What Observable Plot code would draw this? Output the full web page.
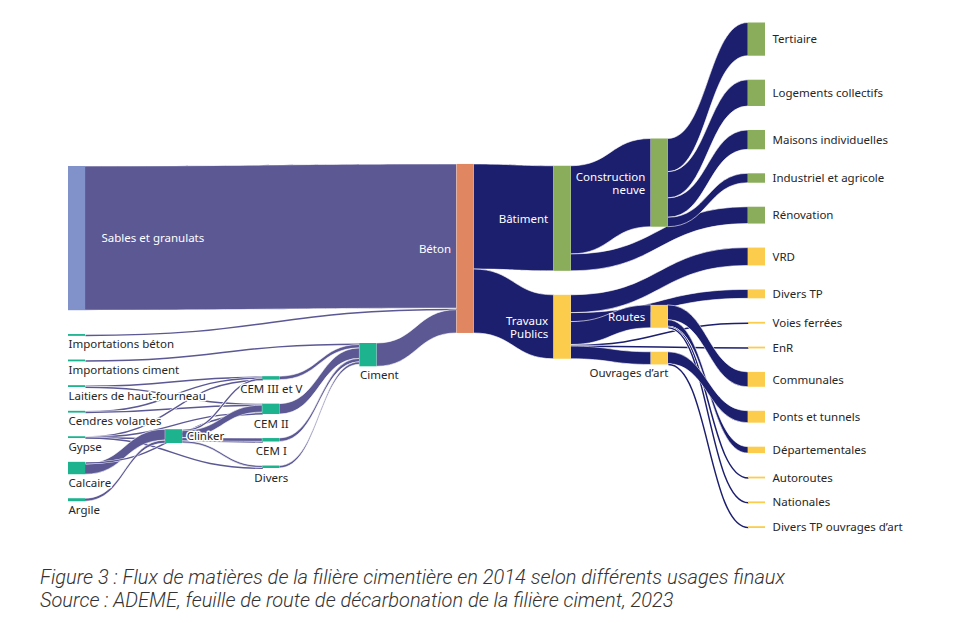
<!DOCTYPE html>
<html>
<head>
<meta charset="utf-8">
<script src="https://cdn.jsdelivr.net/npm/d3@7"></script>
<script src="https://cdn.jsdelivr.net/npm/@observablehq/plot@0.6"></script>
<style>
  body { margin: 0; background: #fff; }
  #chart { width: 980px; }
  #caption {
    font-family: Roboto, "Noto Sans", sans-serif;
    font-style: italic;
    font-weight: 300;
    font-size: 20px;
    line-height: 23px;
    color: #333;
    padding-left: 40px;
    margin-top: 6px;
  }
</style>
</head>
<body>
<div id="chart"></div>
<div id="caption">Figure 3 : Flux de matières de la filière cimentière en 2014 selon différents usages finaux<br>Source : ADEME, feuille de route de décarbonation de la filière ciment, 2023</div>
<script>
// ---------- DATA ----------
const nodeNames = [
  "Sables et granulats", "Importations béton", "Importations ciment", "Laitiers de haut-fourneau",
  "Cendres volantes", "Gypse", "Calcaire", "Argile",
  "Clinker",
  "CEM III et V", "CEM II", "CEM I", "Divers",
  "Ciment",
  "Béton",
  "Bâtiment", "Travaux Publics",
  "Construction neuve", "Routes", "Ouvrages d’art",
  "Tertiaire", "Logements collectifs", "Maisons individuelles", "Industriel et agricole", "Rénovation",
  "VRD", "Divers TP", "Voies ferrées", "EnR", "Communales", "Ponts et tunnels", "Départementales",
  "Autoroutes", "Nationales", "Divers TP ouvrages d’art"
];
const nodeLabels = nodeNames.map(n =>
  n === "Travaux Publics" ? "Travaux\nPublics" : n === "Construction neuve" ? "Construction\nneuve" : n);
const nodeFamilies = [
  "granulats", "matière", "matière", "matière", "matière", "matière", "matière", "matière",
  "matière",
  "matière", "matière", "matière", "matière",
  "matière",
  "béton",
  "bâtiment", "travaux publics",
  "bâtiment", "travaux publics", "travaux publics",
  "bâtiment", "bâtiment", "bâtiment", "bâtiment", "bâtiment",
  "travaux publics", "travaux publics", "travaux publics", "travaux publics", "travaux publics",
  "travaux publics", "travaux publics", "travaux publics", "travaux publics", "travaux publics"
];

const linkSources = [
  "Sables et granulats", "Importations béton", "Importations ciment",
  "Laitiers de haut-fourneau", "Laitiers de haut-fourneau",
  "Cendres volantes", "Cendres volantes",
  "Gypse", "Gypse", "Gypse", "Gypse",
  "Calcaire", "Calcaire", "Argile",
  "Clinker", "Clinker", "Clinker", "Clinker",
  "CEM III et V", "CEM II", "CEM I", "Divers",
  "Ciment",
  "Béton", "Béton",
  "Bâtiment", "Bâtiment",
  "Construction neuve", "Construction neuve", "Construction neuve", "Construction neuve",
  "Travaux Publics", "Travaux Publics", "Travaux Publics", "Travaux Publics", "Travaux Publics", "Travaux Publics",
  "Routes", "Routes", "Routes", "Routes",
  "Ouvrages d’art", "Ouvrages d’art"
];
const linkTargets = [
  "Béton", "Béton", "Ciment",
  "CEM III et V", "CEM II",
  "CEM III et V", "CEM II",
  "CEM III et V", "CEM II", "CEM I", "Divers",
  "Clinker", "CEM II", "Clinker",
  "CEM III et V", "CEM II", "CEM I", "Divers",
  "Ciment", "Ciment", "Ciment", "Ciment",
  "Béton",
  "Bâtiment", "Travaux Publics",
  "Construction neuve", "Rénovation",
  "Tertiaire", "Logements collectifs", "Maisons individuelles", "Industriel et agricole",
  "VRD", "Divers TP", "Routes", "Voies ferrées", "EnR", "Ouvrages d’art",
  "Communales", "Départementales", "Autoroutes", "Nationales",
  "Ponts et tunnels", "Divers TP ouvrages d’art"
];
const linkValues = [
  145.5, 1.5, 1.5,
  1.2, 0.6,
  0.6, 0.9,
  0.2, 0.5, 0.2, 0.5,
  11, 1.5, 3,
  1.5, 7, 3.3, 2,
  3.5, 10.5, 3.5, 2.5,
  23.5,
  106, 64.5,
  89, 17,
  33.5, 26.5, 19.5, 9.5,
  18, 9, 23.1, 0.8, 0.8, 12.8,
  15, 6.5, 0.8, 0.8,
  12, 0.8
];

// ---------- SANKEY LAYOUT (classic d3-sankey centre relaxation, justify alignment, input order kept) ----------
function sankeyLayout({nodes, links, x0, x1, y0, y1, nodeWidth, nodePadding, iterations}) {
  nodes.forEach((n, i) => { n.index = i; n.sourceLinks = []; n.targetLinks = []; });
  const byId = new Map(nodes.map(n => [n.name, n]));
  links.forEach((l, i) => {
    l.index = i;
    l.source = byId.get(l.source); l.target = byId.get(l.target);
    l.source.sourceLinks.push(l); l.target.targetLinks.push(l);
  });
  for (const n of nodes) n.value = Math.max(d3.sum(n.sourceLinks, l => l.value), d3.sum(n.targetLinks, l => l.value));
  let current = new Set(nodes), next = new Set(), x = 0;
  while (current.size) {
    for (const n of current) { n.depth = x; for (const l of n.sourceLinks) next.add(l.target); }
    x++; current = next; next = new Set();
  }
  const nCols = d3.max(nodes, n => n.depth) + 1;
  const kx = (x1 - x0 - nodeWidth) / (nCols - 1);
  const columns = Array.from({length: nCols}, () => []);
  for (const n of nodes) {
    const i = n.sourceLinks.length ? n.depth : nCols - 1;
    n.layer = i; n.x0 = x0 + i * kx; n.x1 = n.x0 + nodeWidth;
    columns[i].push(n);
  }
  const py = nodePadding;
  const ky = d3.min(columns, c => (y1 - y0 - (c.length - 1) * py) / d3.sum(c, n => n.value));
  for (const col of columns) col.forEach((n, i) => { n.y0 = i; n.y1 = i + n.value * ky; });
  for (const l of links) l.width = l.value * ky;
  const center = n => (n.y0 + n.y1) / 2;

  function resolve() {
    for (const col of columns) {
      let y = y0, node;
      const n = col.length;
      for (let i = 0; i < n; ++i) {
        node = col[i];
        const dy = y - node.y0;
        if (dy > 0) { node.y0 += dy; node.y1 += dy; }
        y = node.y1 + py;
      }
      let dy = y - py - y1;
      if (dy > 0) {
        node.y0 -= dy; node.y1 -= dy; y = node.y0;
        for (let i = n - 2; i >= 0; --i) {
          node = col[i];
          dy = node.y1 + py - y;
          if (dy > 0) { node.y0 -= dy; node.y1 -= dy; }
          y = node.y0;
        }
      }
    }
  }
  resolve();
  let alpha = 1;
  for (let k = iterations; k > 0; --k) {
    alpha *= 0.99;
    for (const col of columns.slice().reverse()) {
      for (const node of col) {
        if (!node.sourceLinks.length) continue;
        const dy = (d3.sum(node.sourceLinks, l => center(l.target) * l.value) /
                    d3.sum(node.sourceLinks, l => l.value) - center(node)) * alpha;
        node.y0 += dy; node.y1 += dy;
      }
    }
    resolve();
    for (const col of columns) {
      for (const node of col) {
        if (!node.targetLinks.length) continue;
        const dy = (d3.sum(node.targetLinks, l => center(l.source) * l.value) /
                    d3.sum(node.targetLinks, l => l.value) - center(node)) * alpha;
        node.y0 += dy; node.y1 += dy;
      }
    }
    resolve();
  }
  for (const n of nodes) {
    n.sourceLinks.sort((a, b) => (a.target.y0 - b.target.y0) || (a.index - b.index));
    n.targetLinks.sort((a, b) => (a.source.y0 - b.source.y0) || (a.index - b.index));
  }
  for (const n of nodes) {
    let a = n.y0, b = n.y0;
    for (const l of n.sourceLinks) { l.y0 = a + l.width / 2; a += l.width; }
    for (const l of n.targetLinks) { l.y1 = b + l.width / 2; b += l.width; }
  }
  return {nodes, links};
}

// ---------- BUILD ----------
const W = 980, H = 560;
const graph = sankeyLayout({
  nodes: nodeNames.map((name, i) => ({name, label: nodeLabels[i], family: nodeFamilies[i]})),
  links: linkSources.map((s, i) => ({source: s, target: linkTargets[i], value: linkValues[i]})),
  x0: 68, x1: 765, y0: 22.5, y1: 527.5, nodeWidth: 17, nodePadding: 24, iterations: 50
});
const amont = new Set(["granulats", "matière"]);
for (const l of graph.links) l.stage = amont.has(l.source.family) ? "amont" : "aval";

const linkMarks = graph.links.flatMap(l => {
  if (l.width >= 1.6) {
    const pts = [
      {x: l.source.x1, t: l.y0 - l.width / 2, b: l.y0 + l.width / 2, stage: l.stage},
      {x: l.target.x0, t: l.y1 - l.width / 2, b: l.y1 + l.width / 2, stage: l.stage}
    ];
    return [Plot.areaY(pts, {x: "x", y1: "t", y2: "b", fill: "stage", stroke: "white", strokeWidth: 0.6, curve: "bump-x"})];
  }
  const common = {x1: d => d.source.x1, y1: d => d.y0, x2: d => d.target.x0, y2: d => d.y1, curve: "bump-x"};
  return [
    Plot.link([l], {...common, stroke: "white", strokeWidth: 2.6}),
    Plot.link([l], {...common, stroke: "stage", strokeWidth: 1.45})
  ];
});

const N = graph.nodes;
const mid = d => (d.y0 + d.y1) / 2;
const leftWhite = new Set(["Béton", "Bâtiment", "Travaux Publics", "Construction neuve", "Routes"]);
const dark = "#262626";
const halo = {stroke: "white", strokeWidth: 3, paintOrder: "stroke"};
const fs = 11.5;

const chart = Plot.plot({
  width: W, height: H,
  margin: 0,
  x: {type: "linear", domain: [0, W], range: [0, W], axis: null},
  y: {type: "linear", domain: [0, H], range: [0, H], axis: null},
  color: {
    type: "ordinal",
    domain: ["granulats", "matière", "béton", "bâtiment", "travaux publics", "amont", "aval"],
    range: ["#8191c9", "#1db38f", "#e08660", "#8aad5b", "#fccd4d", "#5b5894", "#1c1e6e"]
  },
  style: {fontFamily: "'Noto Sans', sans-serif", background: "white"},
  marks: [
    ...linkMarks,
    Plot.rect(N, {
      x1: "x0", x2: "x1",
      y1: d => d.y1 - d.y0 < 1.8 ? mid(d) - 0.9 : d.y0,
      y2: d => d.y1 - d.y0 < 1.8 ? mid(d) + 0.9 : d.y1,
      fill: "family"
    }),
    Plot.text(N.filter(d => d.layer === 7), {x: "x1", y: mid, dx: 7, text: "label", textAnchor: "start", fill: dark, fontSize: fs, ...halo}),
    Plot.text(N.filter(d => d.name === "Clinker"), {x: "x1", y: mid, dx: 4, text: "label", textAnchor: "start", fill: dark, fontSize: fs, ...halo}),
    Plot.text(N.filter(d => (d.layer === 0 && d.name !== "Sables et granulats") || d.name === "Ciment"),
      {x: "x0", y: "y1", dy: 4, text: "label", textAnchor: "start", lineAnchor: "top", fill: dark, fontSize: fs, ...halo}),
    Plot.text(N.filter(d => d.layer === 2), {x: d => (d.x0 + d.x1) / 2, y: "y1", dy: 5, text: "label", textAnchor: "middle", lineAnchor: "top", fill: dark, fontSize: fs, ...halo}),
    Plot.text(N.filter(d => d.name === "Ouvrages d’art"), {x: "x1", y: "y1", dy: 4, text: "label", textAnchor: "end", lineAnchor: "top", fill: dark, fontSize: fs, ...halo}),
    Plot.text(N.filter(d => d.name === "Sables et granulats"), {x: "x1", y: mid, dx: 16, text: "label", textAnchor: "start", fill: "white", fontSize: fs}),
    Plot.text(N.filter(d => leftWhite.has(d.name)), {x: "x0", y: mid, dx: -6, text: "label", textAnchor: "end", fill: "white", fontSize: fs, lineHeight: 1.15})
  ]
});
document.getElementById("chart").appendChild(chart);
</script>
</body>
</html>
